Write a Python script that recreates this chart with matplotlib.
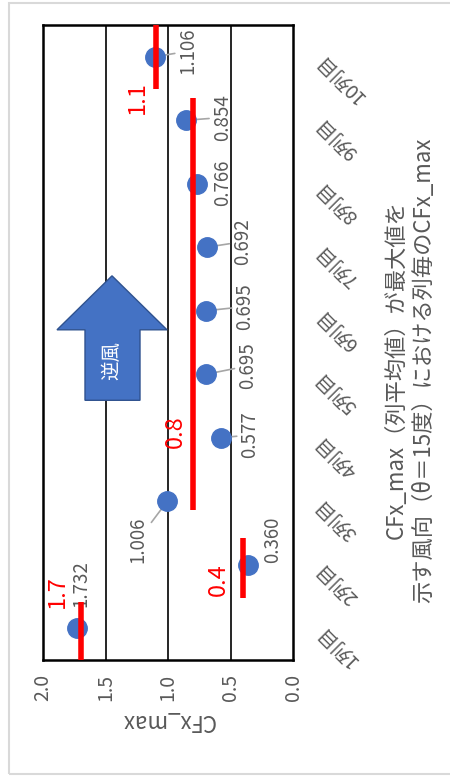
import matplotlib.pyplot as plt
from matplotlib.patches import Polygon, Rectangle

plt.rcParams['font.family'] = ['Noto Sans CJK JP', 'DejaVu Sans']

cols = ["1列目", "2列目", "3列目", "4列目", "5列目",
        "6列目", "7列目", "8列目", "9列目", "10列目"]
cfx = [1.732, 0.360, 1.006, 0.577, 0.695, 0.695, 0.692, 0.766, 0.854, 1.106]
labels = ["1.732", "0.360", "1.006", "0.577", "0.695",
          "0.695", "0.692", "0.766", "0.854", "1.106"]

# red hand-drawn group levels: value, first column, last column
grp_val = [1.7, 0.4, 0.8, 1.1]
grp_txt = ["1.7", "0.4", "0.8", "1.1"]
grp_first = [0, 1, 2, 9]
grp_last = [0, 1, 8, 9]

title = "CFx_max（列平均値）が最大値を\n示す風向（θ＝15度）における列毎のCFx_max"

blue = "#4472C4"
grey = "#595959"

fig = plt.figure(figsize=(4.5, 7.76), dpi=100)
fig.patches.append(Rectangle((9/450, 2/776), 1.2, 771/776, transform=fig.transFigure,
                             fill=False, edgecolor="#D9D9D9", lw=1.5))
ax = fig.add_axes([43/450, 116/776, 250/450, 635/776])

ypos = list(range(len(cols)))
ax.plot(cfx, ypos, 'o', color=blue, ms=14, zorder=5)

ax.set_xlim(2.0, 0.0)
ax.set_ylim(-0.5, len(cols) - 0.5)
ax.set_xticks([2.0, 1.5, 1.0, 0.5, 0.0])
ax.set_xticklabels(["2.0", "1.5", "1.0", "0.5", "0.0"], rotation=90,
                   fontsize=14, color=grey)
ax.tick_params(axis='x', length=0, pad=10)
ax.set_xlabel("CFx_max", rotation=180, fontsize=16, color=grey, labelpad=6)
for v in [1.5, 1.0, 0.5]:
    ax.axvline(v, color='black', lw=1.2, zorder=1)
for s in ax.spines.values():
    s.set_linewidth(1.8)

ax.yaxis.tick_right()
ax.set_yticks(ypos)
ax.set_yticklabels(cols, rotation=135, rotation_mode='anchor', ha='right',
                   va='center', fontsize=14, color=grey)
ax.tick_params(axis='y', length=0, pad=19)

# data labels (offset in points) and leader lines
offs = [(3, 32), (18, 18), (-21, -28), (21, 2), (30, 6),
        (28, 3), (26, 4), (18, 1), (26, 2), (24, 4)]
leader = [False, False, True, True, True, True, True, False, True, True]
for i, v in enumerate(cfx):
    ap = dict(arrowstyle='-', color='#A6A6A6', lw=1.2, shrinkA=0, shrinkB=0) if leader[i] else None
    ax.annotate(labels[i], (v, i), xytext=offs[i], textcoords='offset points',
                rotation=90, ha='center', va='center', fontsize=13.5, color=grey,
                arrowprops=ap, zorder=4)

# red level lines
lo_pad = [-0.5, -0.52, -0.14, -0.5]
hi_pad = [0.41, 0.42, 0.35, 0.5]
lab_y = [0.57, 0.76, 3.09, 8.35]
lab_dx = [-17, -18, -13, -13]
for k, v in enumerate(grp_val):
    ax.plot([v, v], [grp_first[k] + lo_pad[k], grp_last[k] + hi_pad[k]],
            color='red', lw=4, solid_capstyle='butt', zorder=6, clip_on=False)
    ax.annotate(grp_txt[k], (v, lab_y[k]), xytext=(lab_dx[k], 0),
                textcoords='offset points', rotation=90, ha='center',
                va='center', fontsize=17, color='red', zorder=6)

# wind arrow
arrow = Polygon([(1.448, 5.55), (1.888, 4.70), (1.664, 4.70), (1.664, 3.59),
                 (1.224, 3.59), (1.224, 4.70), (1.008, 4.70)],
                closed=True, facecolor=blue, edgecolor='#2F528F', lw=1, zorder=3)
ax.add_patch(arrow)
ax.text(1.448, 4.22, "逆風", rotation=90, ha='center', va='center',
        fontsize=14, color='white', zorder=4)

fig.text(410/450, 1 - 370/776, title, rotation=90, ha='center', va='center',
         multialignment='center', fontsize=16, color=grey, linespacing=1.3)

fig.savefig("out.png", dpi=100)
